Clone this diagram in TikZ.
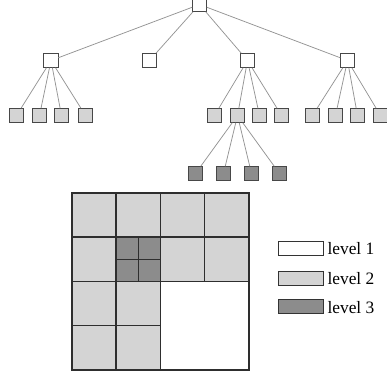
\documentclass[tikz,border=0pt]{standalone}
\usepackage{fontspec}
\setmainfont{Liberation Serif}
\begin{document}
\begin{tikzpicture}[x=1pt,y=-1pt,
  every node/.style={inner sep=0pt, outer sep=0pt},
  treebox/.style={draw=black!72, line width=1pt, minimum size=14.5pt, rectangle},
  lvlone/.style={treebox, fill=white},
  lvltwo/.style={treebox, fill=black!17},
  lvlthree/.style={treebox, fill=black!45},
  edge/.style={draw=black!42, line width=0.75pt},
  gridline/.style={draw=black!82, line width=1.1pt},
  legendbox/.style={draw=black!80, line width=1pt, minimum width=45.5pt, minimum height=14pt},
  legendtext/.style={font=\fontsize{17.4}{20}\selectfont, anchor=base west}]
\useasboundingbox (0,0) rectangle (387,372);
\begin{scope}
\clip (0,0) rectangle (387,372);
% tree nodes
\node[lvlone] (r) at (199.5,4.5) {};
\node[lvlone] (a) at (51,60.5) {};
\node[lvlone] (b) at (149.5,60.5) {};
\node[lvlone] (c) at (247.5,60.5) {};
\node[lvlone] (d) at (347.5,60.5) {};
\node[lvltwo] (a1) at (16.5,115.5) {};
\node[lvltwo] (a2) at (39.5,115.5) {};
\node[lvltwo] (a3) at (61.5,115.5) {};
\node[lvltwo] (a4) at (85.5,115.5) {};
\node[lvltwo] (c1) at (214.5,115.5) {};
\node[lvltwo] (c2) at (237.5,115.5) {};
\node[lvltwo] (c3) at (259.5,115.5) {};
\node[lvltwo] (c4) at (281.5,115.5) {};
\node[lvltwo] (d1) at (312.5,115.5) {};
\node[lvltwo] (d2) at (335.5,115.5) {};
\node[lvltwo] (d3) at (357.5,115.5) {};
\node[lvltwo] (d4) at (380.5,115.5) {};
\node[lvlthree] (e1) at (195.5,173.5) {};
\node[lvlthree] (e2) at (223.5,173.5) {};
\node[lvlthree] (e3) at (251.5,173.5) {};
\node[lvlthree] (e4) at (279.5,173.5) {};
% tree edges
\foreach \p/\q in {r/a,r/b,r/c,r/d,a/a1,a/a2,a/a3,a/a4,c/c1,c/c2,c/c3,c/c4,
                   d/d1,d/d2,d/d3,d/d4,c2/e1,c2/e2,c2/e3,c2/e4}
  \draw[edge] (\p) -- (\q);
\end{scope}
% quadtree grid
\fill[black!17] (72,193) rectangle (249,370);
\fill[white] (160.5,281.5) rectangle (249,370);
\fill[black!45] (116,237) rectangle (160.5,281.5);
\draw[gridline] (72,237) -- (249,237);
\draw[gridline] (72,281.5) -- (249,281.5);
\draw[gridline] (72,325.5) -- (160.5,325.5);
\draw[gridline] (116,193) -- (116,370);
\draw[gridline] (160.5,193) -- (160.5,370);
\draw[gridline] (204.5,193) -- (204.5,281.5);
\draw[gridline] (138.3,237) -- (138.3,281.5);
\draw[gridline] (116,259.3) -- (160.5,259.3);
\draw[gridline] (72,193) rectangle (249,370);
% legend
\node[legendbox, fill=white] (k1) at (301,248) {};
\node[legendbox, fill=black!17] (k2) at (301,278) {};
\node[legendbox, fill=black!45] (k3) at (301,306.5) {};
\node[legendtext] (t1) at (327.5,254.5) {level 1};
\node[legendtext] (t2) at (327.5,284.5) {level 2};
\node[legendtext] (t3) at (327.5,313.5) {level 3};
\end{tikzpicture}
\end{document}
